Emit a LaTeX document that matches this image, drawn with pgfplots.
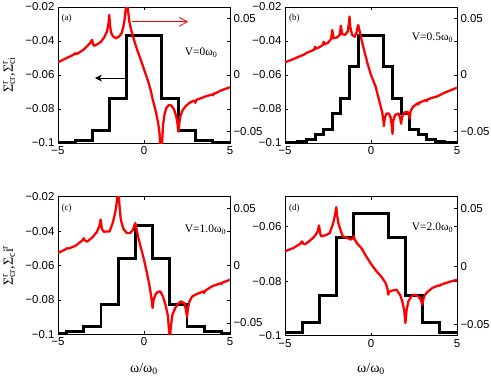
\documentclass[border=0pt]{standalone}
\usepackage{fontspec}
\setmainfont{Liberation Serif}
\newfontfamily\ticksans{Liberation Sans}
\usepackage{pgfplots}
\pgfplotsset{compat=1.18}
\usetikzlibrary{arrows.meta}

\pgfplotsset{
  panel/.style={
    scale only axis, width=172bp,
    xmin=-5, xmax=5, xtick={-5,0,5}, xticklabels={−5,0,5},
    scaled ticks=false,
    tick label style={font=\ticksans\fontsize{11.5}{12}\selectfont},
    axis line style={line width=0.5pt},
    every tick/.style={black, line width=0.5pt},
    major tick length=3bp,
  },
  leftax/.style={panel},
  rightax/.style={panel, axis x line=none, axis y line*=right,
    ymin=-0.06, ymax=0.06, ytick={-0.05,0,0.05}, yticklabels={−0.05,0,0.05}},
  fullleft/.style={ymin=-0.1, ymax=-0.02, ytick={-0.1,-0.08,-0.06,-0.04,-0.02},
    yticklabels={−0.1,−0.08,−0.06,−0.04,−0.02}},
  stepline/.style={black, line width=3pt, no markers},
  reline/.style={red, line width=2.3pt, no markers, line join=round},
}
\tikzset{
  tag/.style={font=\fontsize{9}{10}\selectfont},
  vtext/.style={anchor=west, inner sep=0pt, font=\fontsize{11.5}{12}\selectfont},
}

\begin{document}
\begin{tikzpicture}
\useasboundingbox (0,0) rectangle (491bp,-382bp);

% ---------- (a) ----------
\begin{axis}[leftax, fullleft, at={(58bp,-143bp)}, height=136bp]
\addplot[stepline] coordinates {
  (-5,-0.0995) (-4,-0.0995) (-4,-0.0985) (-3,-0.0985) (-3,-0.0924) (-2,-0.0924)
  (-2,-0.074) (-1,-0.074) (-1,-0.0365) (1,-0.0365) (1,-0.074) (2,-0.074)
  (2,-0.0924) (3,-0.0924) (3,-0.0985) (4,-0.0985) (4,-0.0995) (5,-0.0995)
};
\node[tag] at (rel axis cs:0.05,0.919) {(a)};
\node[vtext] at (rel axis cs:0.737,0.665) {V=0ω\textsubscript{0}};
\draw[black, line width=0.8pt, -{Stealth[length=7bp,width=7bp]}]
  (axis cs:-1.1,-0.0618) -- (axis cs:-2.85,-0.0618);
\end{axis}
\begin{axis}[rightax, at={(58bp,-143bp)}, height=136bp]
\addplot[reline] coordinates {
  (-5,0.0112) (-4.5,0.015) (-4.1,0.0178) (-4.0,0.0192) (-3.9,0.0185) (-3.5,0.0225)
  (-3.2,0.027) (-3.08,0.0295) (-3.02,0.031) (-2.96,0.027) (-2.9,0.0258) (-2.7,0.0272)
  (-2.5,0.0294) (-2.3,0.0335) (-2.15,0.0385) (-2.06,0.046) (-2.02,0.053) (-1.98,0.045)
  (-1.92,0.0375) (-1.8,0.034) (-1.63,0.0324) (-1.45,0.034) (-1.3,0.0368) (-1.18,0.044)
  (-1.1,0.052) (-1.04,0.062) (-1.0,0.075) (-0.97,0.07) (-0.93,0.057) (-0.85,0.047)
  (-0.78,0.042) (-0.7,0.037) (-0.6,0.032) (-0.5,0.027) (-0.38,0.0215) (-0.25,0.016)
  (-0.12,0.0105) (0,0.005) (0.12,-0.0002) (0.25,-0.006) (0.38,-0.013) (0.5,-0.021)
  (0.6,-0.027) (0.7,-0.033) (0.82,-0.042) (0.9,-0.051) (0.96,-0.065) (1.0,-0.08)
  (1.04,-0.065) (1.1,-0.045) (1.2,-0.034) (1.3,-0.029) (1.45,-0.0265) (1.6,-0.027)
  (1.75,-0.0305) (1.88,-0.037) (1.95,-0.043) (2.0,-0.05) (2.05,-0.043) (2.12,-0.036)
  (2.25,-0.031) (2.45,-0.027) (2.7,-0.024) (2.92,-0.0225) (2.98,-0.0245) (3.04,-0.022)
  (3.3,-0.0205) (3.6,-0.0188) (3.95,-0.0172) (4.0,-0.0178) (4.05,-0.0168) (4.5,-0.0135)
  (5,-0.0108)
};
\draw[red, line width=0.8pt, -{Straight Barb[length=8bp,width=9bp]}]
  (axis cs:-0.72,0.047) -- (axis cs:2.56,0.047);
\end{axis}

% ---------- (b) ----------
\begin{axis}[leftax, fullleft, at={(285bp,-143bp)}, height=136bp]
\addplot[stepline] coordinates {
  (-5,-0.0995) (-4.25,-0.0995) (-4.25,-0.099) (-3.75,-0.099) (-3.75,-0.0982) (-3.25,-0.0982)
  (-3.25,-0.095) (-2.75,-0.095) (-2.75,-0.0918) (-2.25,-0.0918) (-2.25,-0.0825) (-1.75,-0.0825)
  (-1.75,-0.0737) (-1.25,-0.0737) (-1.25,-0.0551) (-0.75,-0.0551) (-0.75,-0.0365)
  (0.75,-0.0365) (0.75,-0.0551) (1.25,-0.0551) (1.25,-0.0737) (1.75,-0.0737)
  (1.75,-0.0825) (2.25,-0.0825) (2.25,-0.0918) (2.75,-0.0918) (2.75,-0.095) (3.25,-0.095)
  (3.25,-0.0982) (3.75,-0.0982) (3.75,-0.099) (4.25,-0.099) (4.25,-0.0995) (5,-0.0995)
};
\node[tag] at (rel axis cs:0.054,0.919) {(b)};
\node[vtext] at (rel axis cs:0.737,0.772) {V=0.5ω\textsubscript{0}};
\end{axis}
\begin{axis}[rightax, at={(285bp,-143bp)}, height=136bp]
\addplot[reline] coordinates {
  (-5,0.0112) (-4.6,0.0135) (-4.25,0.0158) (-3.9,0.018) (-3.75,0.0195) (-3.5,0.021)
  (-3.3,0.0225) (-3.25,0.025) (-3.2,0.0232) (-3.0,0.0245) (-2.8,0.0265) (-2.75,0.0294)
  (-2.7,0.027) (-2.5,0.0285) (-2.32,0.0318) (-2.25,0.0397) (-2.18,0.0325) (-2.0,0.033)
  (-1.82,0.0353) (-1.75,0.0435) (-1.68,0.036) (-1.5,0.0355) (-1.35,0.0385) (-1.28,0.046)
  (-1.25,0.0515) (-1.2,0.042) (-1.1,0.0355) (-0.95,0.0338) (-0.83,0.038) (-0.77,0.043)
  (-0.74,0.044) (-0.68,0.04) (-0.55,0.031) (-0.4,0.022) (-0.2,0.01) (0,0.0)
  (0.27,-0.0103) (0.5,-0.024) (0.65,-0.033) (0.72,-0.04) (0.75,-0.045) (0.8,-0.038)
  (0.9,-0.034) (1.05,-0.034) (1.15,-0.038) (1.22,-0.046) (1.25,-0.052) (1.3,-0.04)
  (1.4,-0.0353) (1.6,-0.034) (1.7,-0.038) (1.75,-0.043) (1.8,-0.037) (1.95,-0.033)
  (2.12,-0.0325) (2.22,-0.036) (2.25,-0.0385) (2.3,-0.032) (2.45,-0.028) (2.7,-0.025)
  (2.75,-0.026) (2.8,-0.0245) (3.2,-0.022) (3.25,-0.023) (3.3,-0.0215) (3.75,-0.0192)
  (3.8,-0.0192) (4.3,-0.0155) (5,-0.0112)
};
\end{axis}

% ---------- (c) ----------
\begin{axis}[leftax, fullleft, at={(58bp,-334.3bp)}, height=137.6bp]
\addplot[stepline] coordinates {
  (-5,-0.0995) (-4.5,-0.0995) (-4.5,-0.0985) (-3.5,-0.0985) (-3.5,-0.0956) (-2.5,-0.0956)
  (-2.5,-0.0829) (-1.5,-0.0829) (-1.5,-0.0558) (-0.5,-0.0558) (-0.5,-0.0367)
  (0.5,-0.0367) (0.5,-0.0558) (1.5,-0.0558) (1.5,-0.0829) (2.5,-0.0829)
  (2.5,-0.0956) (3.5,-0.0956) (3.5,-0.0985) (4.5,-0.0985) (4.5,-0.0995) (5,-0.0995)
};
\node[tag] at (rel axis cs:0.05,0.916) {(c)};
\node[vtext] at (rel axis cs:0.737,0.758) {V=1.0ω\textsubscript{0}};
\end{axis}
\begin{axis}[rightax, at={(58bp,-334.3bp)}, height=137.6bp]
\addplot[reline] coordinates {
  (-5,0.011) (-4.6,0.0138) (-4.5,0.015) (-4.4,0.0148) (-4.0,0.017) (-3.66,0.021)
  (-3.55,0.0225) (-3.5,0.0238) (-3.45,0.022) (-3.3,0.0208) (-3.0,0.0245) (-2.75,0.029)
  (-2.6,0.034) (-2.52,0.04) (-2.45,0.032) (-2.35,0.0295) (-2.0,0.0297) (-1.8,0.038)
  (-1.65,0.048) (-1.56,0.058) (-1.5,0.07) (-1.44,0.055) (-1.35,0.04) (-1.2,0.032)
  (-1.0,0.0283) (-0.8,0.0283) (-0.65,0.031) (-0.55,0.0355) (-0.5,0.037) (-0.45,0.033)
  (-0.35,0.0255) (-0.2,0.0165) (-0.1,0.011) (0,0.005) (0.15,-0.005) (0.3,-0.016)
  (0.42,-0.027) (0.5,-0.037) (0.56,-0.03) (0.66,-0.0254) (0.8,-0.023) (0.95,-0.0226)
  (1.1,-0.027) (1.25,-0.0342) (1.38,-0.043) (1.45,-0.055) (1.5,-0.07) (1.55,-0.055)
  (1.65,-0.043) (1.82,-0.037) (2.0,-0.033) (2.15,-0.0313) (2.36,-0.033) (2.45,-0.04)
  (2.5,-0.045) (2.55,-0.038) (2.64,-0.0313) (2.8,-0.027) (3.0,-0.0254) (3.45,-0.0225)
  (3.5,-0.024) (3.55,-0.022) (3.95,-0.0182) (4.45,-0.0155) (4.5,-0.0162) (4.55,-0.015)
  (5,-0.0124)
};
\end{axis}

% ---------- (d) ----------
\begin{axis}[leftax, at={(285bp,-335.7bp)}, height=139bp,
  ymin=-0.1, ymax=-0.049, ytick={-0.1,-0.08,-0.06}, yticklabels={−0.1,−0.08,−0.06}]
\addplot[stepline] coordinates {
  (-5,-0.099) (-4,-0.099) (-4,-0.0953) (-3,-0.0953) (-3,-0.0853) (-2,-0.0853)
  (-2,-0.0638) (-1,-0.0638) (-1,-0.0552) (1,-0.0552) (1,-0.0638) (2,-0.0638)
  (2,-0.0853) (3,-0.0853) (3,-0.0953) (4,-0.0953) (4,-0.099) (5,-0.099)
};
\node[tag] at (rel axis cs:0.054,0.917) {(d)};
\node[vtext] at (rel axis cs:0.737,0.775) {V=2.0ω\textsubscript{0}};
\end{axis}
\begin{axis}[rightax, at={(285bp,-335.7bp)}, height=139bp]
\addplot[reline] coordinates {
  (-5,0.0128) (-4.5,0.0158) (-4.15,0.019) (-4.03,0.021) (-4.0,0.0214) (-3.95,0.0195)
  (-3.85,0.0188) (-3.6,0.0215) (-3.3,0.0255) (-3.1,0.03) (-3.02,0.0352) (-2.95,0.028)
  (-2.88,0.0257) (-2.6,0.027) (-2.4,0.0286) (-2.2,0.037) (-2.08,0.045) (-2.02,0.051)
  (-1.96,0.043) (-1.9,0.0373) (-1.75,0.03) (-1.63,0.0257) (-1.35,0.0243) (-1.2,0.023)
  (-1.05,0.024) (-1.0,0.026) (-0.95,0.023) (-0.8,0.0195) (-0.55,0.0155) (-0.3,0.009)
  (0,0.002) (0.3,-0.004) (0.6,-0.009) (0.85,-0.0145) (0.95,-0.019) (1.0,-0.0246)
  (1.05,-0.022) (1.2,-0.0212) (1.48,-0.0203) (1.7,-0.025) (1.82,-0.0304) (1.93,-0.038)
  (2.0,-0.049) (2.07,-0.038) (2.17,-0.0304) (2.35,-0.026) (2.5,-0.0246) (2.75,-0.026)
  (2.9,-0.029) (2.98,-0.0333) (3.05,-0.028) (3.14,-0.0246) (3.3,-0.022) (3.56,-0.0188)
  (3.95,-0.0165) (4.0,-0.017) (4.05,-0.016) (4.53,-0.0137) (5,-0.0117)
};
\end{axis}

% ---------- shared labels ----------
\node[rotate=90, font=\fontsize{14}{15}\selectfont] at (9bp,-75bp)
  {Σ\rlap{\textsuperscript{r}}\textsubscript{cr},Σ\rlap{\textsuperscript{r}}\textsubscript{ci}};
\node[rotate=90, font=\fontsize{14}{15}\selectfont] at (9bp,-265.5bp)
  {Σ\rlap{\textsuperscript{r}}\textsubscript{cr},Σ\textsubscript{c}i\textsuperscript{r}};
\node[font=\fontsize{14}{15}\selectfont] at (144bp,-369bp) {ω/ω\textsubscript{0}};
\node[font=\fontsize{14}{15}\selectfont] at (371bp,-369bp) {ω/ω\textsubscript{0}};
\end{tikzpicture}
\end{document}
